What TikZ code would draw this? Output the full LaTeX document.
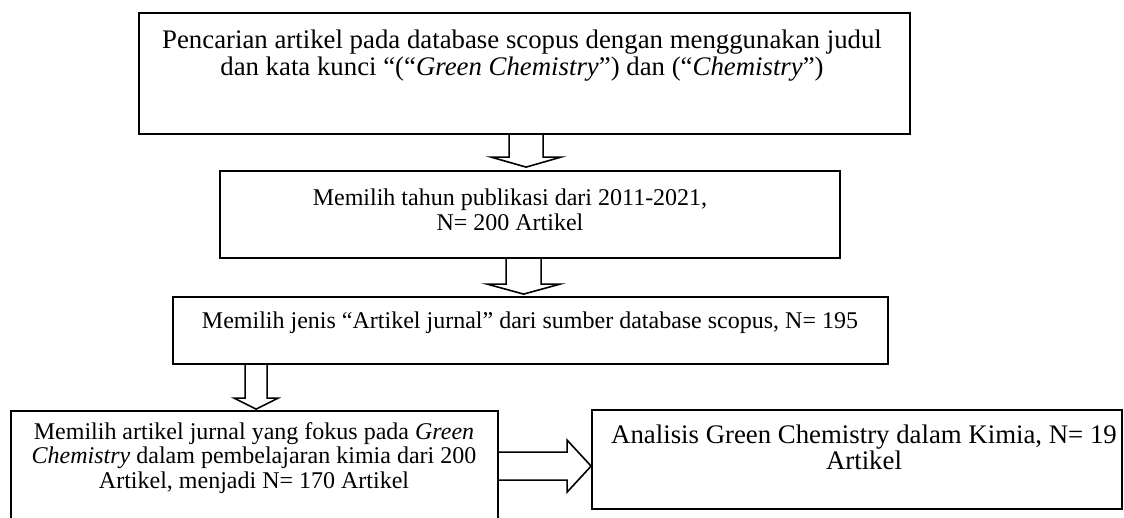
\documentclass[tikz,border=0pt]{standalone}
\usepackage{fontspec}
\setmainfont{Liberation Serif}
\usetikzlibrary{calc}
\newcommand\downblock[5]{%
  \draw[blk] ($(#1)+(-#3,0)$) -- ($(#1|-#2)+(-#3,-#5)$) -- ($(#1|-#2)+(-#4,-#5)$) -- (#1|-#2)
    -- ($(#1|-#2)+(#4,-#5)$) -- ($(#1|-#2)+(#3,-#5)$) -- ($(#1)+(#3,0)$);}
\newcommand\rightblock[5]{%
  \draw[blk] ($(#1)+(0,-#3)$) -- ($(#2|-#1)+(-#5,-#3)$) -- ($(#2|-#1)+(-#5,-#4)$) -- (#2|-#1)
    -- ($(#2|-#1)+(-#5,#4)$) -- ($(#2|-#1)+(-#5,#3)$) -- ($(#1)+(0,#3)$);}
\begin{document}
\begin{tikzpicture}[x=0.5pt,y=-0.5pt,
  box/.style={draw, line width=0.9pt, inner sep=0pt, rectangle},
  blk/.style={draw, line width=0.8pt, line join=miter},
  txt/.style={align=center, inner sep=0pt},
  big/.style={font=\fontsize{13.4}{13.5}\selectfont},
  mid/.style={font=\fontsize{12}{12.4}\selectfont}]
\useasboundingbox (0,0) rectangle (1124,518);
% boxes
\node[box, minimum width=385.5pt, minimum height=60.5pt] (b1) at (524.5,73.5) {};
\node[box, minimum width=310pt, minimum height=43.5pt] (b2) at (530,214.5) {};
\node[box, minimum width=357.5pt, minimum height=33.5pt] (b3) at (530.5,330.5) {};
\node[box, minimum width=243.5pt, minimum height=64.5pt] (b4) at (254.5,475.5) {};
\node[box, minimum width=265pt, minimum height=49.5pt] (b5) at (857,459.5) {};
% texts
\node[txt, big] (t1) at (522,55.5) {Pencarian artikel pada database scopus dengan menggunakan judul\\dan kata kunci “(“\textit{Green Chemistry}”) dan (“\textit{Chemistry}”)};
\node[txt, mid] (t2) at (510,210) {Memilih tahun publikasi dari 2011-2021,\\N= 200 Artikel};
\node[txt, mid] (t3) at (530,323) {Memilih jenis “Artikel jurnal” dari sumber database scopus, N= 195};
\node[txt, mid] (t4) at (254,458) {Memilih artikel jurnal yang fokus pada \textit{Green}\\\textit{Chemistry} dalam pembelajaran kimia dari 200\\Artikel, menjadi N= 170 Artikel};
\node[txt, big, font=\fontsize{13.4}{13}\selectfont] (t5) at (864,447) {Analisis Green Chemistry dalam Kimia, N= 19\\Artikel};
% block arrows
\coordinate (s1) at ($(b1.south west)+(388,0)$);
\coordinate (e1) at ($(b2.north)+(0,-3)$);
\downblock{s1}{e1}{17}{35}{10}
\coordinate (s2) at ($(b2.south west)+(304.5,0)$);
\coordinate (e2) at ($(b3.north)+(0,-2)$);
\downblock{s2}{e2}{17.5}{36.5}{10}
\coordinate (s3) at ($(b3.south west)+(84,0)$);
\coordinate (e3) at ($(b4.north)+(0,-1)$);
\downblock{s3}{e3}{11}{22}{11}
\coordinate (s4) at ($(b4.north east)+(0,56)$);
\rightblock{s4}{b5.west}{14}{26}{24}
\end{tikzpicture}
\end{document}
